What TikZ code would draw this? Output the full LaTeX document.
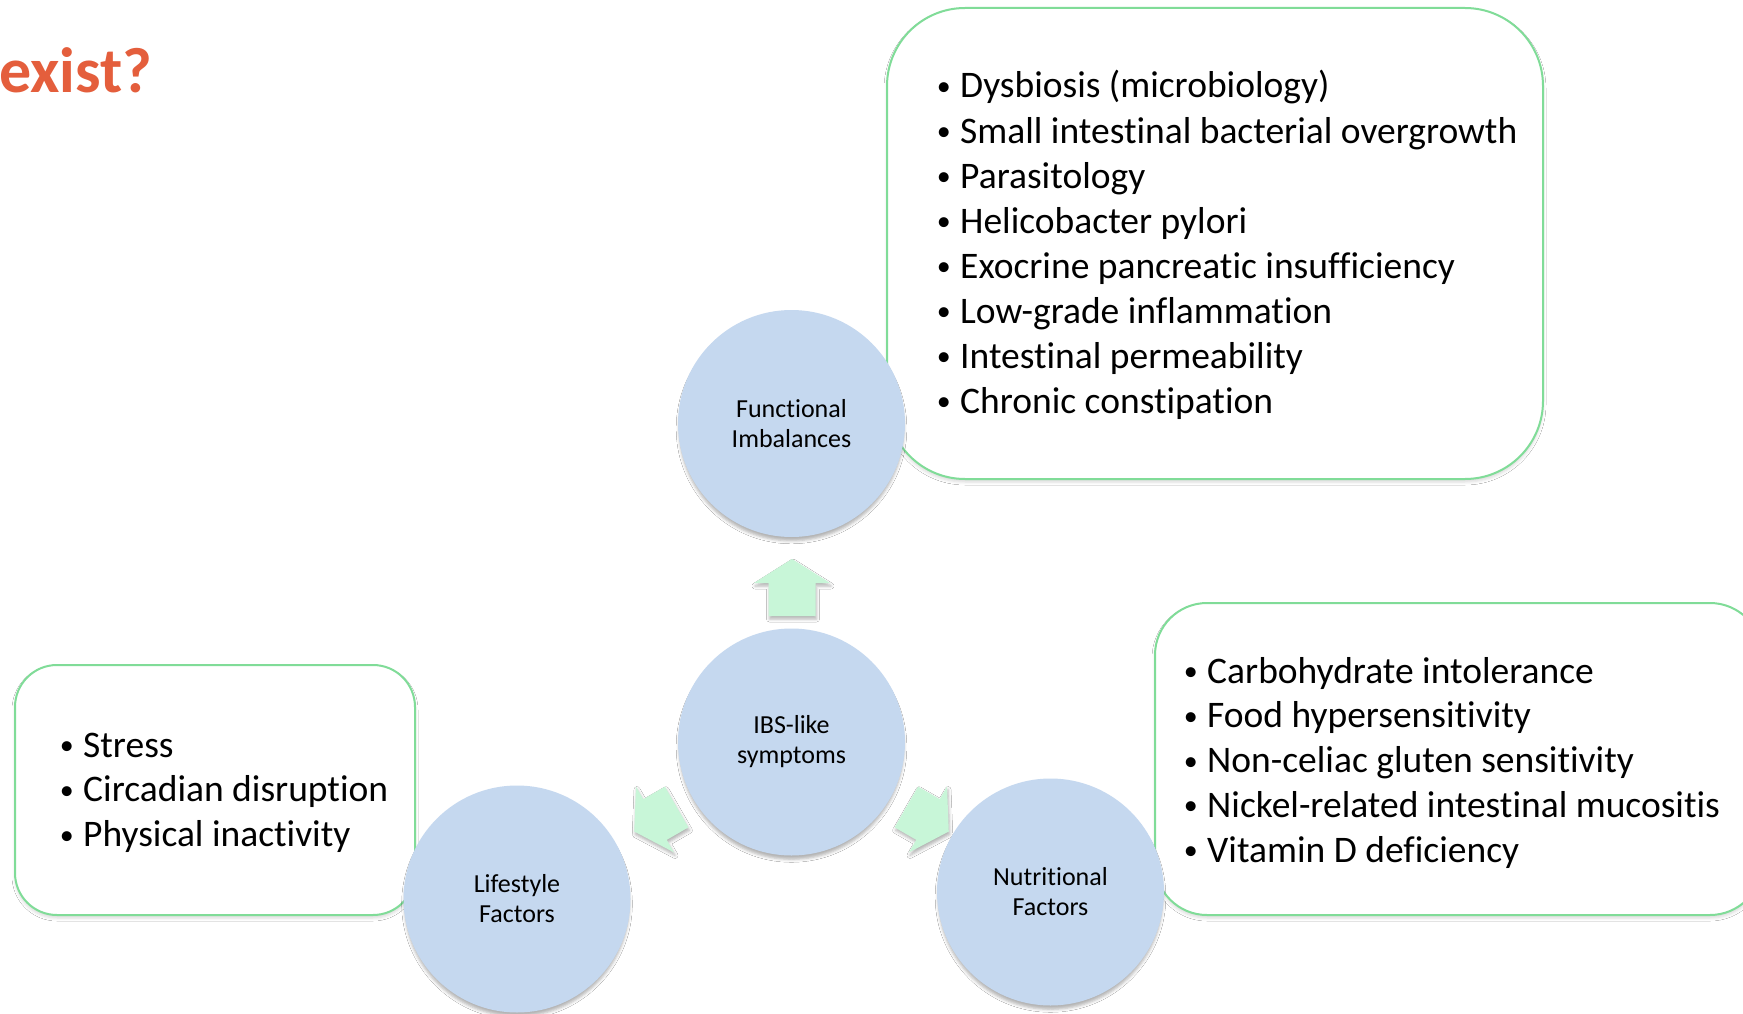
\documentclass[tikz,border=0pt]{standalone}
\usepackage{fontspec}
\setmainfont{Carlito}[Ligatures={NoCommon,NoContextual}]
\usetikzlibrary{shadows.blur}
\definecolor{titlered}{RGB}{228,94,60}
\definecolor{boxgreen}{RGB}{128,220,152}
\definecolor{circblue}{RGB}{197,216,239}
\definecolor{arrgreen}{RGB}{200,246,216}
\newcommand\itembul{\llap{\raisebox{2.5pt}{\fontsize{28}{28}\selectfont •}\hspace{9.5pt}}}
\tikzset{
  circ/.style={circle, fill=circblue, minimum size=227pt, inner sep=0pt, align=center,
    font=\fontsize{26}{30}\selectfont,
    blur shadow={shadow xshift=0pt, shadow yshift=-5pt, shadow scale=0.99, shadow blur radius=3pt, shadow opacity=30}},
  listbox/.style={rectangle, draw=boxgreen, line width=2pt, fill=white, inner sep=0pt,
    blur shadow={shadow xshift=0pt, shadow yshift=-3pt, shadow blur radius=3pt, shadow opacity=15}},
  listitem/.style={anchor=base west, inner sep=0pt, font=\fontsize{37.5}{45}\selectfont},
  blockarrow/.style={fill=arrgreen, draw=none,
    blur shadow={shadow xshift=1pt, shadow yshift=-3pt, shadow blur radius=3pt, shadow opacity=30}},
}
\begin{document}
\begin{tikzpicture}[x=1pt,y=-1pt]
\useasboundingbox[fill=white] (0,0) rectangle (1743,1014);
% title
\node[anchor=base west, inner sep=0pt, text=titlered, font=\fontsize{64}{70}\selectfont\bfseries] (title) at (-1,93) {exist?};
% boxes
\node[listbox, rounded corners=78pt, minimum width=656pt, minimum height=471pt] (fbox) at (1215,243.5) {};
\node[listbox, rounded corners=52pt, minimum width=607pt, minimum height=312pt] (nbox) at (1458.5,759) {};
\node[listbox, rounded corners=42pt, minimum width=400pt, minimum height=250pt] (lbox) at (215,790) {};
% list items
\foreach \t [count=\i] in {{Dysbiosis (microbiology)},{Small intestinal bacterial overgrowth},{Parasitology},{Helicobacter pylori},{Exocrine pancreatic insufficiency},{Low-grade inflammation},{Intestinal permeability},{Chronic constipation}}
  \node[listitem] (fu\i) at (960,{98+45*(\i-1)}) {\itembul\t};
\foreach \t [count=\i] in {{Carbohydrate intolerance},{Food hypersensitivity},{Non-celiac gluten sensitivity},{Nickel-related intestinal mucositis},{Vitamin D deficiency}}
  \node[listitem] (nu\i) at (1207,{683+44.8*(\i-1)}) {\itembul\t};
\foreach \t [count=\i] in {{Stress},{Circadian disruption},{Physical inactivity}}
  \node[listitem] (li\i) at (83,{757+44.8*(\i-1)}) {\itembul\t};
% arrows
\begin{scope}[shift={(792,583)}]
  \path[blockarrow] (0,-24) -- (38,0) -- (23.5,0) -- (23.5,33) -- (-23.5,33) -- (-23.5,0) -- (-38,0) -- cycle;
\end{scope}
\begin{scope}[shift={(655,819.5)}, rotate=120]
  \path[blockarrow] (0,-24) -- (38,0) -- (23.5,0) -- (23.5,25) -- (-23.5,25) -- (-23.5,0) -- (-38,0) -- cycle;
\end{scope}
\begin{scope}[shift={(928,819.5)}, rotate=-120]
  \path[blockarrow] (0,-24) -- (38,0) -- (23.5,0) -- (23.5,25) -- (-23.5,25) -- (-23.5,0) -- (-38,0) -- cycle;
\end{scope}
% circles
\node[circ] (fi) at (791.5,423.5) {Functional\\Imbalances};
\node[circ] (ibs) at (791.5,742) {IBS-like\\symptoms};
\node[circ] (life) at (517,899) {Lifestyle\\Factors};
\node[circ] (nut) at (1050.5,892) {Nutritional\\Factors};
\end{tikzpicture}
\end{document}
